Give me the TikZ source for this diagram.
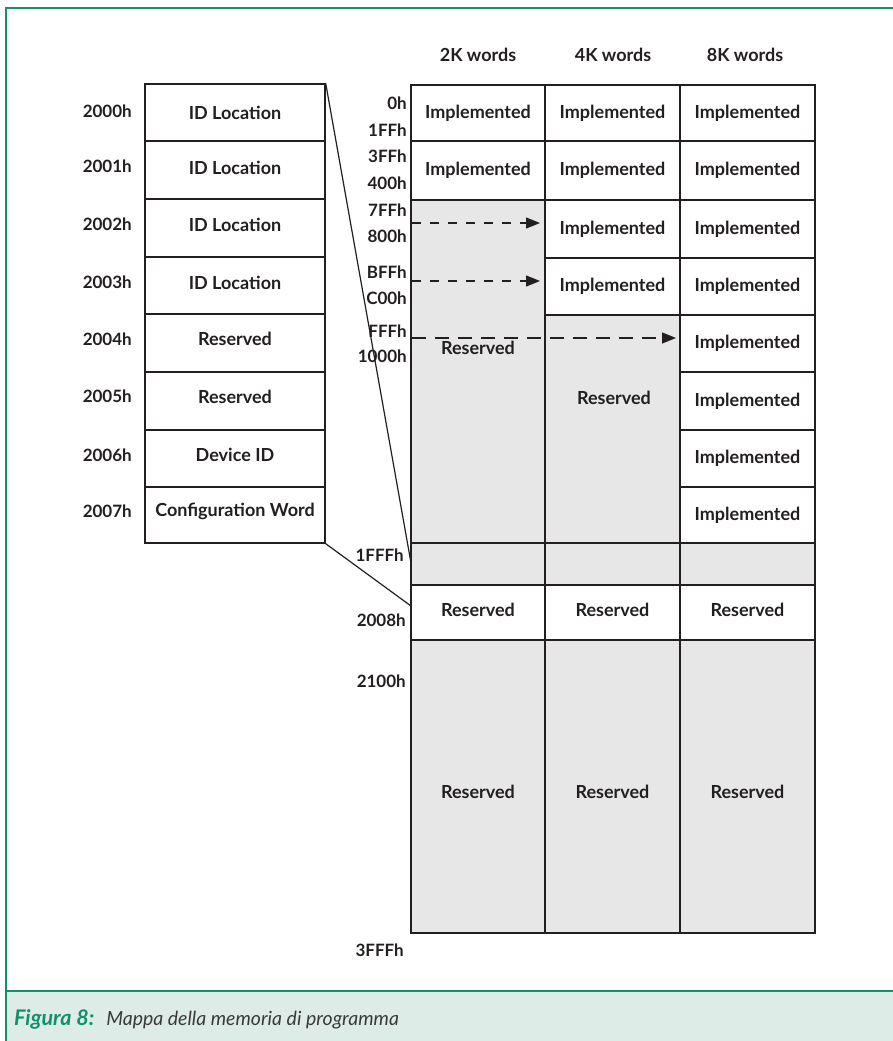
\documentclass[tikz,border=0pt]{standalone}
\usepackage{fontspec}
\setmainfont{Lato}
\usetikzlibrary{arrows.meta}
\definecolor{ink}{HTML}{231F20}
\definecolor{framegreen}{HTML}{138F6C}
\definecolor{capfill}{HTML}{DDECE6}
\definecolor{cellgray}{HTML}{E6E7E6}
\definecolor{capgray}{HTML}{3A3A3A}
\newcommand\liftby[2]{\raisebox{#1}[\height][\depth]{#2}}
\begin{document}
\begin{tikzpicture}[x=1pt,y=-1pt,
  txt/.style={font=\fontsize{18}{20}\selectfont\bfseries, text=ink, inner sep=0pt},
  cell/.style={txt, draw=ink, line width=1.4pt, fill=white},
  graycell/.style={cell, fill=cellgray},
  addr/.style={font=\fontsize{17}{19}\selectfont\bfseries, text=ink, inner sep=0pt, anchor=east},
  laddr/.style={addr},
  zoomline/.style={draw=ink, line width=1.2pt},
  dasharrow/.style={draw=ink, line width=1.1pt, dash pattern=on #1 off 9pt,
    -{Triangle[length=14pt,width=11pt]}},
  framepen/.style={draw=framegreen, line width=2.6pt}]
\useasboundingbox (0,0) rectangle (893,1041);
% frame
\fill[capfill] (6,991) rectangle (893,1041);
\draw[framepen] (893,8) -- (6,8) -- (6,1041);
\draw[framepen] (6,991) -- (893,991);
\node[anchor=west, inner sep=0pt] (cap) at (14,1019)
  {\textcolor{framegreen}{\fontsize{21.5}{22}\selectfont\bfseries\itshape Figura 8:}\hspace{12pt}\textcolor{capgray}{\fontsize{19.5}{22}\selectfont\itshape Mappa della memoria di programma}};

% headers
\node[txt] (h2k) at (478,55) {2K words};
\node[txt] (h4k) at (613,55) {4K words};
\node[txt] (h8k) at (745,55) {8K words};

% left block
\begin{scope}[every node/.append style={minimum width=180pt}]
\node[cell, minimum height=57pt] (L1) at (235,112.5) {ID Location};
\node[cell, minimum height=58pt] (L2) at (235,170) {\liftby{2pt}{ID Location}};
\node[cell, minimum height=58pt] (L3) at (235,228) {\liftby{3pt}{ID Location}};
\node[cell, minimum height=57pt] (L4) at (235,285.5) {\liftby{2.5pt}{ID Location}};
\node[cell, minimum height=58pt] (L5) at (235,343) {\liftby{4pt}{Reserved}};
\node[cell, minimum height=58pt] (L6) at (235,401) {\liftby{4pt}{Reserved}};
\node[cell, minimum height=57pt] (L7) at (235,458.5) {\liftby{4pt}{Device ID}};
\node[cell, minimum height=56pt] (L8) at (235,515) {\liftby{4pt}{Configuration Word}};
\end{scope}
\node[laddr] (a2000) at (132,111) {2000h};
\node[laddr] (a2001) at (132,166) {2001h};
\node[laddr] (a2002) at (132,224) {2002h};
\node[laddr] (a2003) at (132,282) {2003h};
\node[laddr] (a2004) at (132,339) {2004h};
\node[laddr] (a2005) at (132,396) {2005h};
\node[laddr] (a2006) at (132,455) {2006h};
\node[laddr] (a2007) at (132,511) {2007h};

% right table: 2K column
\begin{scope}[every node/.append style={minimum width=134pt}]
\node[cell, minimum height=56pt] (c11) at (478,113) {Implemented};
\node[cell, minimum height=59pt] (c12) at (478,170.5) {Implemented};
\node[graycell, minimum height=343pt] (c13) at (478,371.5) {};
\node[graycell, minimum height=42pt] (c19) at (478,564) {};
\node[cell, minimum height=55pt] (c110) at (478,612.5) {\liftby{3pt}{Reserved}};
\node[graycell, minimum height=293pt] (c111) at (478,786.5) {\liftby{-5pt}{Reserved}};
\end{scope}
\node[txt] (r2k) at (478,348) {Reserved};
% 4K column
\begin{scope}[every node/.append style={minimum width=135pt}]
\node[cell, minimum height=56pt] (c21) at (612.5,113) {Implemented};
\node[cell, minimum height=59pt] (c22) at (612.5,170.5) {Implemented};
\node[cell, minimum height=58pt] (c23) at (612.5,229) {Implemented};
\node[cell, minimum height=57pt] (c24) at (612.5,286.5) {Implemented};
\node[graycell, minimum height=228pt] (c25) at (612.5,429) {};
\node[graycell, minimum height=42pt] (c29) at (612.5,564) {};
\node[cell, minimum height=55pt] (c210) at (612.5,612.5) {\liftby{3pt}{Reserved}};
\node[graycell, minimum height=293pt] (c211) at (612.5,786.5) {\liftby{-5pt}{Reserved}};
\end{scope}
\node[txt] (r4k) at (614,398) {Reserved};
% 8K column
\begin{scope}[every node/.append style={minimum width=135pt}]
\node[cell, minimum height=56pt] (c31) at (747.5,113) {Implemented};
\node[cell, minimum height=59pt] (c32) at (747.5,170.5) {Implemented};
\node[cell, minimum height=58pt] (c33) at (747.5,229) {Implemented};
\node[cell, minimum height=57pt] (c34) at (747.5,286.5) {Implemented};
\node[cell, minimum height=57pt] (c35) at (747.5,343.5) {Implemented};
\node[cell, minimum height=58pt] (c36) at (747.5,401) {Implemented};
\node[cell, minimum height=57pt] (c37) at (747.5,458.5) {Implemented};
\node[cell, minimum height=56pt] (c38) at (747.5,515) {Implemented};
\node[graycell, minimum height=42pt] (c39) at (747.5,564) {};
\node[cell, minimum height=55pt] (c310) at (747.5,612.5) {\liftby{3pt}{Reserved}};
\node[graycell, minimum height=293pt] (c311) at (747.5,786.5) {\liftby{-5pt}{Reserved}};
\end{scope}

% address labels
\node[addr] (x0) at (407,103) {0h};
\node[addr] (x1FF) at (407,130) {1FFh};
\node[addr] (x3FF) at (407,156) {3FFh};
\node[addr] (x400) at (407,183) {400h};
\node[addr] (x7FF) at (407,210) {7FFh};
\node[addr] (x800) at (407,236) {800h};
\node[addr] (xBFF) at (407,272) {BFFh};
\node[addr] (xC00) at (407,298) {C00h};
\node[addr] (xFFF) at (407,331) {FFFh};
\node[addr] (x1000) at (407,356) {1000h};
\node[addr] (x1FFF) at (404,555) {1FFFh};
\node[addr] (x2008) at (406,620) {2008h};
\node[addr] (x2100) at (406,681) {2100h};
\node[addr] (x3FFF) at (404,950) {3FFFh};

% zoom lines
\coordinate (zt) at (411,563);
\coordinate (zb) at (411,606);
\draw[zoomline] (L1.north east) -- (zt);
\draw[zoomline] (L8.south east) -- (zb);

% dashed arrows
\coordinate (s1) at (412,223);
\coordinate (e1) at (540,223);
\coordinate (s2) at (412,281);
\coordinate (e2) at (540,281);
\coordinate (s3) at (412,338);
\coordinate (e3) at (676,338);
\draw[dasharrow=9pt] (s1) -- (e1);
\draw[dasharrow=9pt] (s2) -- (e2);
\draw[dasharrow=14pt] (s3) -- (e3);
\end{tikzpicture}
\end{document}
